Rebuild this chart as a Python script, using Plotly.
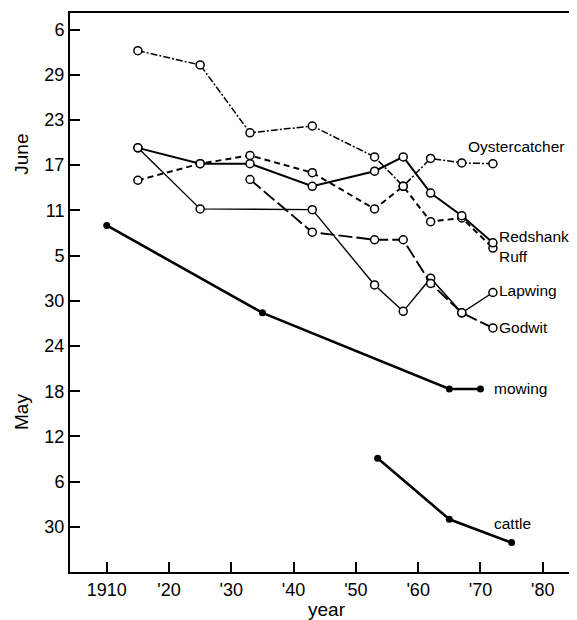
import plotly.graph_objects as go

# y values: days after 30 April (0 = 30 Apr, 30 = 30 May, 36 = 5 June, ...)
tick_vals = [0, 6, 12, 18, 24, 30, 36, 42, 48, 54, 60, 66]
tick_text = ["30", "6", "12", "18", "24", "30", "5", "11", "17", "23", "29", "6"]
x_tick_vals = [1910, 1920, 1930, 1940, 1950, 1960, 1970, 1980]
x_tick_text = ["1910", "'20", "'30", "'40", "'50", "'60", "'70", "'80"]

oyster_x = [1915, 1925, 1933, 1943, 1953, 1957.6, 1962, 1967, 1972]
oyster_y = [63.2, 61.3, 52.3, 53.2, 49.1, 45.2, 48.9, 48.3, 48.2]

redshank_x = [1915, 1925, 1933, 1943, 1953, 1957.6, 1962, 1967, 1972]
redshank_y = [50.3, 48.2, 48.2, 45.2, 47.2, 49.1, 44.3, 41.3, 37.7]

ruff_x = [1915, 1925, 1933, 1943, 1953, 1957.6, 1962, 1967, 1972]
ruff_y = [46.0, 48.2, 49.3, 47.0, 42.2, 45.2, 40.5, 41.0, 37.0]

lapwing_x = [1915, 1925, 1943, 1953, 1957.6, 1962, 1967, 1972]
lapwing_y = [50.3, 42.2, 42.1, 32.1, 28.6, 33.0, 28.4, 31.1]

godwit_x = [1933, 1943, 1953, 1957.6, 1962, 1967, 1972]
godwit_y = [46.1, 39.1, 38.1, 38.1, 32.3, 28.4, 26.4]

mowing_x = [1910, 1935, 1965, 1970]
mowing_y = [40.0, 28.4, 18.3, 18.3]

cattle_x = [1953.5, 1965, 1975]
cattle_y = [9.1, 1.0, -2.1]

FONT = "Liberation Sans, Arial, sans-serif"
open_marker = dict(symbol="circle", size=8, color="white", line=dict(color="black", width=1.5))
dot_marker = dict(symbol="circle", size=7, color="black")

fig = go.Figure()

def add(x, y, width, dash, marker):
    fig.add_trace(go.Scatter(x=x, y=y, mode="lines+markers",
                             line=dict(color="black", width=width, dash=dash),
                             marker=marker, showlegend=False, hoverinfo="skip"))

add(mowing_x, mowing_y, 2.6, "solid", dot_marker)
add(cattle_x, cattle_y, 2.6, "solid", dot_marker)
add(lapwing_x, lapwing_y, 1.4, "solid", open_marker)
add(godwit_x, godwit_y, 1.9, "14px,4px", open_marker)
add(ruff_x, ruff_y, 2.0, "6px,4px", open_marker)
add(redshank_x, redshank_y, 2.0, "solid", open_marker)
add(oyster_x, oyster_y, 1.5, "7px,2px,2px,2px", open_marker)

labels = [
    ("Oystercatcher", 1967.6, 50.5),
    ("Redshank", 1972.6, 38.5),
    ("Ruff", 1972.6, 35.9),
    ("Lapwing", 1972.6, 31.4),
    ("Godwit", 1972.6, 26.4),
    ("mowing", 1971.9, 18.3),
    ("cattle", 1971.9, 0.5),
]
for t, x, y in labels:
    fig.add_annotation(x=x, y=y, text=t, showarrow=False, xanchor="left", yanchor="middle",
                       xshift=0, font=dict(family=FONT, size=15.5, color="black"))

fig.add_annotation(xref="paper", yref="y", x=0, xshift=-48, xanchor="center", yanchor="middle",
                   y=(526.7 - 155) / 7.526,
                   text="June", textangle=-90, showarrow=False,
                   font=dict(family=FONT, size=19, color="black"))
fig.add_annotation(xref="paper", yref="y", x=0, xshift=-48, xanchor="center", yanchor="middle",
                   y=(526.7 - 412) / 7.526,
                   text="May", textangle=-90, showarrow=False,
                   font=dict(family=FONT, size=19, color="black"))
fig.add_annotation(xref="x", yref="paper", x=1945.4, y=0, yshift=-37, xanchor="center",
                   yanchor="middle", text="year", showarrow=False,
                   font=dict(family=FONT, size=19, color="black"))

fig.update_layout(
    width=569, height=612,
    margin=dict(l=62, r=0, t=5, b=48, pad=0),
    paper_bgcolor="white", plot_bgcolor="white",
    font=dict(family=FONT, size=18, color="black"),
    xaxis=dict(range=[1904.1, 1985.5], tickvals=x_tick_vals, ticktext=x_tick_text,
               ticks="inside", ticklen=10, tickwidth=1.5, tickcolor="black",
               showline=True, linecolor="black", linewidth=2, mirror=True,
               showgrid=False, zeroline=False, tickfont=dict(size=18)),
    yaxis=dict(range=[-6.0, 68.2], tickvals=tick_vals, ticktext=tick_text,
               ticks="inside", ticklen=10, tickwidth=1.5, tickcolor="black",
               showline=True, linecolor="black", linewidth=2,
               showgrid=False, zeroline=False, tickfont=dict(size=18)),
)

fig.write_html("out.html")
